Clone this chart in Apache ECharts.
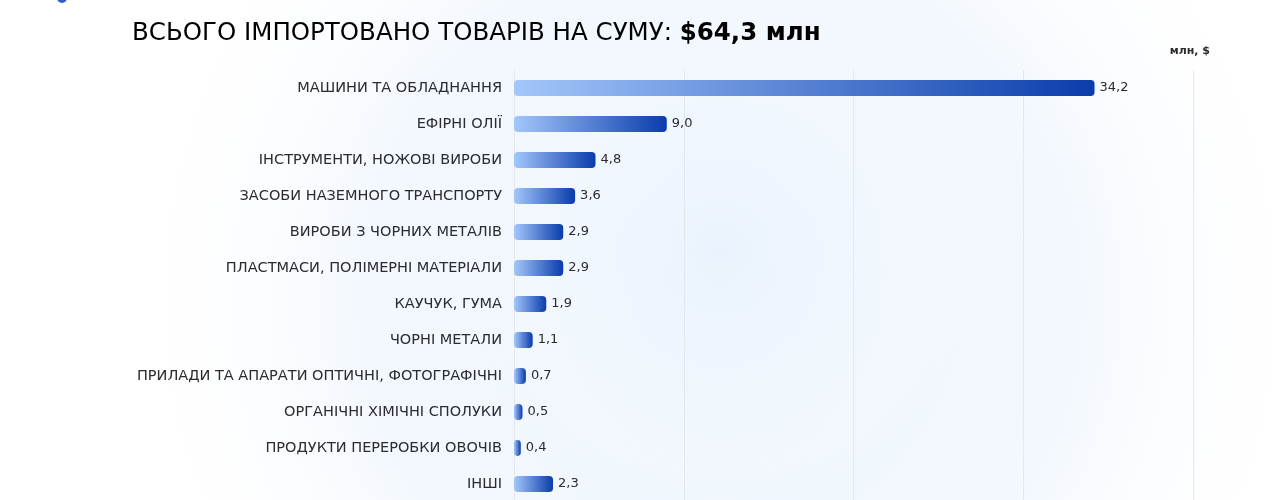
<!DOCTYPE html>
<html>
<head>
<meta charset="utf-8">
<script src="https://cdn.jsdelivr.net/npm/echarts@6/dist/echarts.min.js"></script>
<style>
html,body{margin:0;padding:0;background:#ffffff;overflow:hidden;}
#c{width:1280px;height:504px;}
</style>
</head>
<body>
<div id="c"></div>
<script>
var categories = [
  'МАШИНИ ТА ОБЛАДНАННЯ',
  'ЕФІРНІ ОЛІЇ',
  'ІНСТРУМЕНТИ, НОЖОВІ ВИРОБИ',
  'ЗАСОБИ НАЗЕМНОГО ТРАНСПОРТУ',
  'ВИРОБИ З ЧОРНИХ МЕТАЛІВ',
  'ПЛАСТМАСИ, ПОЛІМЕРНІ МАТЕРІАЛИ',
  'КАУЧУК, ГУМА',
  'ЧОРНІ МЕТАЛИ',
  'ПРИЛАДИ ТА АПАРАТИ ОПТИЧНІ, ФОТОГРАФІЧНІ',
  'ОРГАНІЧНІ ХІМІЧНІ СПОЛУКИ',
  'ПРОДУКТИ ПЕРЕРОБКИ ОВОЧІВ',
  'ІНШІ'
];
var values = [34.2, 9.0, 4.8, 3.6, 2.9, 2.9, 1.9, 1.1, 0.7, 0.5, 0.4, 2.3];
var titleText = 'ВСЬОГО ІМПОРТОВАНО ТОВАРІВ НА СУМУ: ';
var titleTotal = '$64,3 млн';
var unitText = 'млн, $';

var chart = echarts.init(document.getElementById('c'));
var font = '"DejaVu Sans", sans-serif';
chart.setOption({
  backgroundColor: '#ffffff',
  animation: false,
  graphic: [
    {
      type: 'circle', z: -10, silent: true,
      shape: {cx: 720, cy: 300, r: 600},
      style: {
        fill: new echarts.graphic.RadialGradient(0.5, 0.5, 0.5, [
          {offset: 0, color: '#eef5fd'},
          {offset: 0.6, color: '#f3f8fe'},
          {offset: 1, color: 'rgba(255,255,255,0)'}
        ])
      }
    },
    {
      type: 'circle', z: -9, silent: true,
      shape: {cx: 720, cy: 250, r: 270},
      style: {
        fill: new echarts.graphic.RadialGradient(0.5, 0.5, 0.5, [
          {offset: 0, color: 'rgba(228,240,252,0.5)'},
          {offset: 1, color: 'rgba(255,255,255,0)'}
        ])
      }
    },
    {
      type: 'circle', silent: true,
      shape: {cx: 62, cy: -2, r: 5},
      style: {fill: '#2d5fd0'}
    },
    {
      type: 'text', left: 132, top: 21,
      style: {
        text: '{a|' + titleText + '}{b|' + titleTotal + '}',
        rich: {
          a: {fontFamily: font, fontSize: 24.5, fontWeight: 'normal', color: '#1f1f24'},
          b: {fontFamily: font, fontSize: 24.5, fontWeight: 'bold', color: '#1f1f24'}
        }
      }
    },
    {
      type: 'text', right: 70, top: 46,
      style: {text: unitText, font: 'bold 11px ' + font, fill: '#2b2b30'}
    }
  ],
  grid: {left: 514, right: 87, top: 70, height: 432, containLabel: false},
  xAxis: {
    type: 'value', min: 0, max: 40, interval: 10,
    axisLabel: {show: false}, axisLine: {show: false}, axisTick: {show: false},
    splitLine: {show: true, lineStyle: {color: '#e3e7ee', width: 1}}
  },
  yAxis: {
    type: 'category', data: categories, inverse: true,
    axisLine: {show: false}, axisTick: {show: false},
    axisLabel: {margin: 12, fontFamily: font, fontSize: 14.5, color: '#2b2b30'}
  },
  series: [{
    type: 'bar', data: values, barWidth: 16,
    itemStyle: {
      borderRadius: 4,
      color: new echarts.graphic.LinearGradient(0, 0, 1, 0, [
        {offset: 0, color: '#a3c7fb'},
        {offset: 1, color: '#0a3cab'}
      ])
    },
    label: {
      show: true, position: 'right', distance: 5,
      fontFamily: font, fontSize: 13, color: '#2b2b30',
      formatter: function (p) { return p.value.toFixed(1).replace('.', ','); }
    }
  }]
});
</script>
</body>
</html>
